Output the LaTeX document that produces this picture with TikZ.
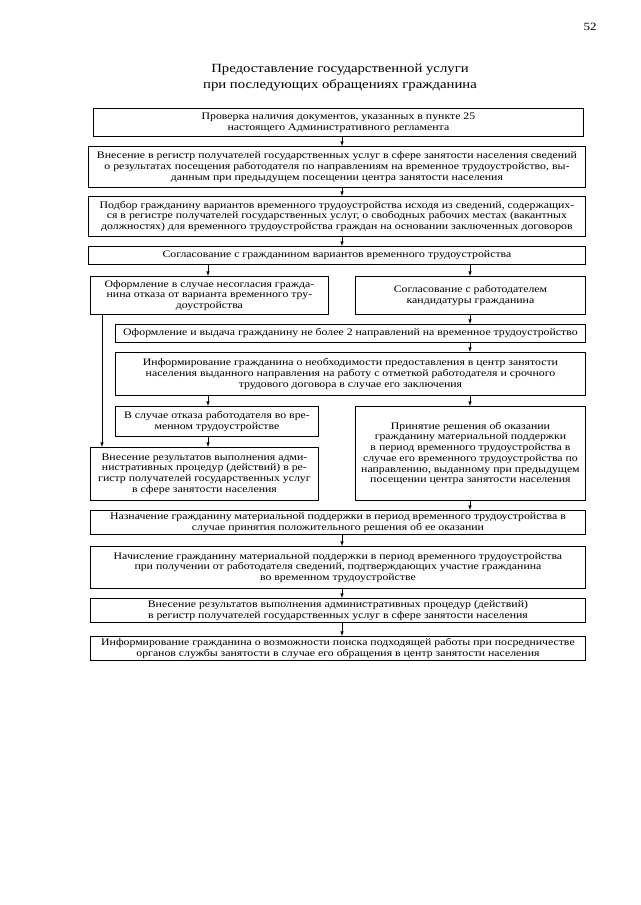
\documentclass[tikz,border=0pt]{standalone}
\usepackage{fontspec}
\setmainfont[FakeStretch=1.18]{Liberation Serif}
\usetikzlibrary{shapes,arrows,positioning}
\tikzstyle{box}=[rectangle,draw,line width=0.9pt,anchor=north west,align=center,inner xsep=1pt,inner ysep=1pt,font=\fontsize{10}{10.7}\selectfont]
\tikzstyle{arr}=[-latex,line width=0.6pt]

\begin{document}
\begin{tikzpicture}[x=1pt,y=-1pt]
\useasboundingbox (0,0) rectangle (640,905);
\coordinate (cM) at (342,0);
\coordinate (cL) at (208,0);
\coordinate (cR) at (470,0);
\coordinate (cE) at (102,0);
\node (P) at (590,27) {\fontsize{11}{12}\selectfont 52};
\node[align=center,font=\fontsize{12.5}{16}\selectfont] (T) at (340,78) {Предоставление государственной услуги\\при последующих обращениях гражданина};
\node[box,minimum width=490pt,minimum height=28pt] (A) at (93,108) {Проверка наличия документов, указанных в пункте 25\\настоящего Административного регламента};
\node[box,minimum width=497pt,minimum height=41pt] (B) at (88,146) {Внесение в регистр получателей государственных услуг в сфере занятости населения сведений\\о результатах посещения работодателя по направлениям на временное трудоустройство, вы-\\данным при предыдущем посещении центра занятости населения};
\node[box,minimum width=497pt,minimum height=40pt] (C) at (88,196) {Подбор гражданину вариантов временного трудоустройства исходя из сведений, содержащих-\\ся в регистре получателей государственных услуг, о свободных рабочих местах (вакантных\\должностях) для временного трудоустройства граждан на основании заключенных договоров};
\node[box,minimum width=497pt,minimum height=18pt] (D) at (88,246) {Согласование с гражданином вариантов временного трудоустройства};
\node[box,minimum width=238pt,minimum height=38pt] (E) at (90,276) {Оформление в случае несогласия гражда-\\нина отказа от варианта временного тру-\\доустройства};
\node[box,minimum width=230pt,minimum height=38pt] (F) at (355,276) {Согласование с работодателем\\кандидатуры гражданина};
\node[box,minimum width=470pt,minimum height=18pt] (G) at (115,324) {Оформление и выдача гражданину не более 2 направлений на временное трудоустройство};
\node[box,minimum width=470pt,minimum height=43pt] (H) at (115,352) {Информирование гражданина о необходимости предоставления в центр занятости\\населения выданного направления на работу с отметкой работодателя и срочного\\трудового договора в случае его заключения};
\node[box,minimum width=203pt,minimum height=30pt] (I) at (115,406) {В случае отказа работодателя во вре-\\менном трудоустройстве};
\node[box,minimum width=230pt,minimum height=94pt] (J) at (355,406) {Принятие решения об оказании\\гражданину материальной поддержки\\в период временного трудоустройства в\\случае его временного трудоустройства по\\направлению, выданному при предыдущем\\посещении центра занятости населения};
\node[box,minimum width=228pt,minimum height=53pt] (K) at (90,447) {Внесение результатов выполнения адми-\\нистративных процедур (действий) в ре-\\гистр получателей государственных услуг\\в сфере занятости населения};
\node[box,minimum width=495pt,minimum height=24pt] (L) at (90,510) {Назначение гражданину материальной поддержки в период временного трудоустройства в\\случае принятия положительного решения об ее оказании};
\node[box,minimum width=495pt,minimum height=42pt] (M) at (90,546) {Начисление гражданину материальной поддержки в период временного трудоустройства\\при получении от работодателя сведений, подтверждающих участие гражданина\\во временном трудоустройстве};
\node[box,minimum width=495pt,minimum height=24pt] (N) at (90,598) {Внесение результатов выполнения административных процедур (действий)\\в регистр получателей государственных услуг в сфере занятости населения};
\node[box,minimum width=495pt,minimum height=24pt] (O) at (90,636) {Информирование гражданина о возможности поиска подходящей работы при посредничестве\\органов службы занятости в случае его обращения в центр занятости населения};
% main column
\draw[arr] (A.south -| cM) -- (B.north -| cM);
\draw[arr] (B.south -| cM) -- (C.north -| cM);
\draw[arr] (C.south -| cM) -- (D.north -| cM);
\draw[arr] (D.south -| cL) -- (E.north -| cL);
\draw[arr] (D.south -| cR) -- (F.north -| cR);
\draw[arr] (F.south -| cR) -- (G.north -| cR);
\draw[arr] (G.south -| cR) -- (H.north -| cR);
\draw[arr] (H.south -| cL) -- (I.north -| cL);
\draw[arr] (H.south -| cR) -- (J.north -| cR);
\draw[arr] (I.south -| cL) -- (K.north -| cL);
\draw[arr] (E.south -| cE) -- (K.north -| cE);
\draw[arr] (J.south -| cR) -- (L.north -| cR);
\draw[arr] (L.south -| cM) -- (M.north -| cM);
\draw[arr] (M.south -| cM) -- (N.north -| cM);
\draw[arr] (N.south -| cM) -- (O.north -| cM);
\end{tikzpicture}
\end{document}
